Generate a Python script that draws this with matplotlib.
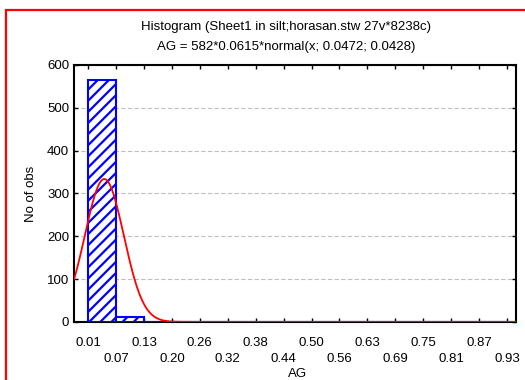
#!/usr/bin/env python3
import numpy as np
import matplotlib
matplotlib.use('Agg')
import matplotlib.pyplot as plt
from matplotlib.patches import Rectangle

plt.rcParams['font.family'] = ['Liberation Sans', 'DejaVu Sans']
plt.rcParams['hatch.linewidth'] = 1.6

bin_start = 0.0115
bin_width = 0.0615
counts = [564, 12, 0, 0, 0, 0, 0, 0, 0, 0, 0, 0, 0, 0, 0]
tick_labels = ['0.01', '0.07', '0.13', '0.20', '0.26', '0.32', '0.38', '0.44',
               '0.50', '0.56', '0.63', '0.69', '0.75', '0.81', '0.87', '0.93']
n_total = 582
mu = 0.0472
sigma = 0.0428


def main():
    fig = plt.figure(figsize=(5.25, 3.8), dpi=100)
    ax = fig.add_axes([0.141, 0.153, 0.842, 0.676])

    edges = bin_start + bin_width * np.arange(len(tick_labels))
    ax.bar(edges[:-1], counts, width=bin_width, align='edge',
           facecolor='white', edgecolor='blue', hatch='///', linewidth=1.5,
           zorder=3)

    xlo, xhi = -0.0195, 0.954
    xs = np.linspace(xlo, xhi, 500)
    ys = n_total * bin_width * np.exp(-0.5 * ((xs - mu) / sigma) ** 2) / (sigma * np.sqrt(2 * np.pi))
    ax.plot(xs, ys, color='red', linewidth=1.3, zorder=4)

    ax.set_xlim(xlo, xhi)
    ax.set_ylim(0, 600)
    ax.set_yticks([0, 100, 200, 300, 400, 500, 600])
    ax.yaxis.grid(True, linestyle=(0, (4, 2)), color='#c0c0c0', linewidth=0.8)
    ax.set_axisbelow(True)

    ax.set_xticks(edges)
    labels = [t if i % 2 == 0 else '\n' + t for i, t in enumerate(tick_labels)]
    ax.set_xticklabels(labels, fontsize=9.5, linespacing=1.45)
    ax.tick_params(axis='both', direction='in', length=3, top=True, right=True,
                   labelsize=9.5, width=1)
    ax.tick_params(axis='x', pad=11)
    for s in ax.spines.values():
        s.set_linewidth(1.5)

    fig.text(0.566, 0.016, 'AG', ha='center', va='center', fontsize=9.5)
    ax.set_ylabel('No of obs', fontsize=9.5, labelpad=7)
    fig.text(0.545, 0.928, 'Histogram (Sheet1 in silt;horasan.stw 27v*8238c)',
             ha='center', va='center', fontsize=9.5)
    fig.text(0.545, 0.876, 'AG = 582*0.0615*normal(x; 0.0472; 0.0428)',
             ha='center', va='center', fontsize=9.5)

    fig.add_artist(Rectangle((0.011, -0.1), 1.2, 1.074, transform=fig.transFigure,
                             fill=False, edgecolor='red', linewidth=1.6))

    fig.savefig('out.png', dpi=100)


if __name__ == '__main__':
    main()
